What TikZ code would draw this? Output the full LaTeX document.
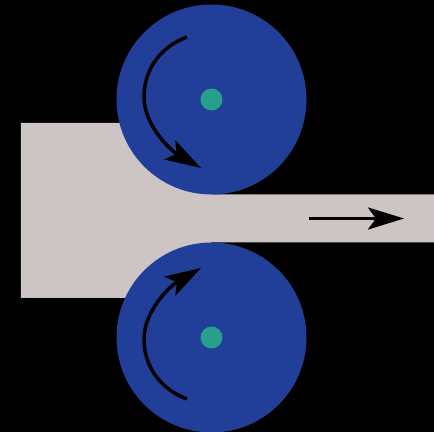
\documentclass[tikz,border=0pt]{standalone}
\usepackage{xcolor}
\definecolor{rollerblue}{HTML}{213F99}
\definecolor{hubteal}{HTML}{26A08C}
\definecolor{stripgrey}{HTML}{CDC5C4}
\usepackage{tikz}
\usetikzlibrary{arrows.meta, positioning}
\tikzset{
    roller/.style={circle, fill=rollerblue, inner sep=0pt, minimum size=3.8cm},
    hub/.style={circle, fill=hubteal, inner sep=0pt, minimum size=0.44cm},
    motion/.style={line width=0.07cm, black, -{Stealth[length=0.72cm, width=0.44cm, inset=0.16cm]}}
}
\begin{document}
\begin{tikzpicture}[scale=1.0]
    % Background
    \fill[black] (0,0) rectangle (8.68,8.64);
    \useasboundingbox (0,0) rectangle (8.68,8.64);
    % Metal strip
    \fill[stripgrey] (0.42,2.68) -- (0.42,6.18) -- (4.23,6.18) -- (4.23,4.75) -- (8.68,4.75)
        -- (8.68,3.79) -- (4.23,3.79) -- (4.23,2.68) -- cycle;
    % Rollers
    \node[roller] (upper) at (4.23,6.65) {};
    \node[roller] (lower) at (4.23,1.89) {};
    \node[hub] (upperhub) at (upper) {};
    \node[hub] (lowerhub) at (lower) {};
    % Rotation of the rollers
    \draw[motion] (3.74,7.90) .. controls (3.20,7.70) and (2.88,7.24) .. (2.88,6.70)
        .. controls (2.88,6.14) and (3.40,5.64) .. (4.02,5.28);
    \draw[motion] (3.74,0.66) .. controls (3.20,0.86) and (2.88,1.32) .. (2.88,1.86)
        .. controls (2.88,2.42) and (3.40,2.92) .. (4.02,3.28);
    % Direction of the strip
    \coordinate (stripstart) at (6.18,4.27);
    \coordinate (stripend) at (8.08,4.27);
    \draw[motion] (stripstart) -- (stripend);
\end{tikzpicture}
\end{document}
